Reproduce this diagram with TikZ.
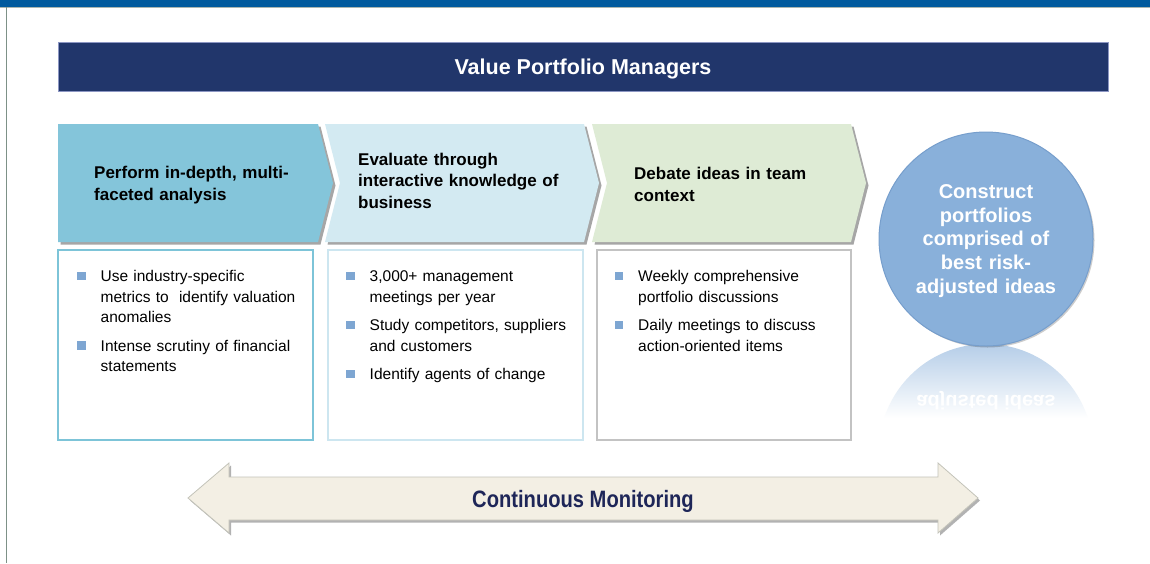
\documentclass[tikz,border=0pt]{standalone}
\usepackage{fontspec}
\setmainfont{Liberation Sans}
\newfontfamily\condfont[FakeStretch=0.85]{Liberation Sans}
\usetikzlibrary{shadows}

\definecolor{topbar}{RGB}{0,90,158}
\definecolor{topline}{RGB}{170,182,176}
\definecolor{sideline}{RGB}{125,145,135}
\definecolor{navy}{RGB}{33,54,107}
\definecolor{navyedge}{RGB}{140,150,195}
\definecolor{chevA}{RGB}{132,197,218}
\definecolor{chevB}{RGB}{211,234,242}
\definecolor{chevC}{RGB}{222,235,213}
\definecolor{boxA}{RGB}{125,196,216}
\definecolor{boxB}{RGB}{205,230,240}
\definecolor{boxC}{RGB}{195,195,195}
\definecolor{bulletc}{RGB}{126,166,210}
\definecolor{orb}{RGB}{137,176,218}
\definecolor{orbedge}{RGB}{118,158,204}
\definecolor{arrowfill}{RGB}{243,239,228}
\definecolor{arrowedge}{RGB}{195,195,185}
\definecolor{monitor}{RGB}{30,38,88}

% square bullet with a hanging indent for the wrapped lines
\newcommand{\bulletsq}{\textcolor{bulletc}{\rule[1.5pt]{8.5pt}{8.5pt}}}
\newcommand{\pitem}[1]{\noindent\hangindent=23.5pt\hangafter=1\hbox to 23.5pt{\bulletsq\hfil}#1\par}
\newcommand{\itemgap}{\vspace{8.5pt}}
\newcommand{\nl}{\break}

\tikzset{
  chevron/.style={draw=none, drop shadow={shadow xshift=2.5pt, shadow yshift=-2.5pt, opacity=0.35, fill=black}},
  infobox/.style={fill=white, line width=2pt},
  bullettext/.style={anchor=base west, inner sep=0pt, text width=240pt, align=left,
    font=\fontsize{15.5}{20.3}\selectfont},
  steptitle/.style={anchor=base west, inner sep=0pt, text width=240pt, align=left,
    font=\fontsize{17}{21.7}\selectfont\bfseries},
}

\begin{document}
\begin{tikzpicture}[x=1pt, y=-1pt]
\useasboundingbox (0,0) rectangle (1150,563);
\fill[white] (0,0) rectangle (1150,563);

% page frame
\fill[topbar] (0,0) rectangle (1150,7);
\draw[topline, line width=1pt] (0,7.5) -- (1150,7.5);
\draw[sideline, line width=1.5pt] (6.5,7) -- (6.5,563);

% title banner
\node[fill=navy, draw=navyedge, line width=0.8pt, minimum width=1050pt, minimum height=49pt,
      inner sep=0pt, anchor=north west] (banner) at (58,42) {};
\node[text=white, font=\fontsize{21.5}{24}\selectfont\bfseries, anchor=base, inner sep=0pt]
  (bannertext) at (583,74.5) {Value Portfolio Managers};

% process chevrons
\fill[chevA, chevron] (58,124) -- (318,124) -- (333,183) -- (318,242) -- (58,242) -- cycle;
\fill[chevB, chevron] (325,124) -- (584,124) -- (599,183) -- (584,242) -- (325,242) -- (340,183) -- cycle;
\fill[chevC, chevron] (592,124) -- (851,124) -- (866,183) -- (851,242) -- (592,242) -- (607,183) -- cycle;

\node[steptitle] (stepone) at (94,178.3) {Perform in-depth, multi-\\faceted analysis};
\node[steptitle] (steptwo) at (358,165) {Evaluate through\\interactive knowledge of\\business};
\node[steptitle] (stepthree) at (634,179.5) {Debate ideas in team\\context};

% detail boxes
\draw[infobox, draw=boxA] (58,250) rectangle (313,440);
\draw[infobox, draw=boxB] (328,250) rectangle (583,440);
\draw[infobox, draw=boxC, line width=1.6pt] (597,250) rectangle (851,440);

\node[bullettext] (listone) at (77,281.7) {%
  \pitem{Use industry-specific\nl metrics to\ \ identify valuation\nl anomalies}\itemgap
  \pitem{Intense scrutiny of financial\nl statements}};
\node[bullettext] (listtwo) at (346,281.7) {%
  \pitem{3,000+ management\nl meetings per year}\itemgap
  \pitem{Study competitors, suppliers\nl and customers}\itemgap
  \pitem{Identify agents of change}};
\node[bullettext] (listthree) at (614.5,281.7) {%
  \pitem{Weekly comprehensive\nl portfolio discussions}\itemgap
  \pitem{Daily meetings to discuss\nl action-oriented items}};

% mirrored orb under the outcome circle, fading towards white
\begin{scope}
  \clip (986,451) circle[radius=107];
  \shade[top color=orb!62!white, bottom color=white] (870,345) rectangle (1100,418);
\end{scope}
\node[text=white, font=\fontsize{20}{23.75}\selectfont\bfseries, anchor=base, inner sep=0pt]
  (orbmirror) at (986,395) {\scalebox{1}[-1]{adjusted ideas}};

% outcome circle
\node[circle, fill=orb, draw=orbedge, line width=1pt, minimum size=214pt, inner sep=0pt,
      drop shadow={shadow xshift=1.5pt, shadow yshift=-1.5pt, opacity=0.2, fill=black}]
  (orbcircle) at (986,239) {};
\node[text=white, font=\fontsize{20}{23.75}\selectfont\bfseries, anchor=base, inner sep=0pt,
      text width=200pt, align=center] (orbtext) at (986,198.3)
  {Construct\\portfolios\\comprised of\\best risk-\\adjusted ideas};

% continuous monitoring double arrow
\filldraw[fill=arrowfill, draw=arrowedge, line width=0.8pt,
          drop shadow={shadow xshift=2pt, shadow yshift=-2.5pt, opacity=0.3, fill=black}]
  (188,498) -- (229,463) -- (229,477) -- (938,477) -- (938,463) -- (978,498)
  -- (938,533) -- (938,520) -- (229,520) -- (229,533) -- cycle;
\node[text=monitor, font=\condfont\fontsize{23.7}{26}\selectfont\bfseries, anchor=base, inner sep=0pt]
  (monitoring) at (583,507) {Continuous Monitoring};
\end{tikzpicture}
\end{document}
